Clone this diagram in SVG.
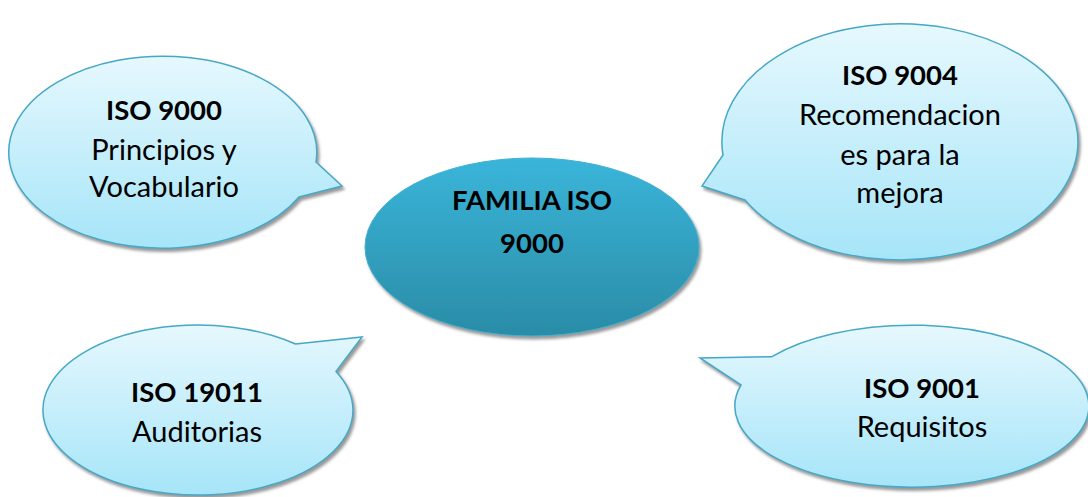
<svg xmlns="http://www.w3.org/2000/svg" width="1088" height="497" viewBox="0 0 1088 497">
  <style>
    .bubble { fill: url(#bubbleFill); stroke: #46A8C6; stroke-width: 1.5; filter: url(#shade); }
    .hub { fill: url(#hubFill); stroke: #3FB0D2; stroke-width: 1; filter: url(#shade); }
    text { font-family: Lato, "Liberation Sans", sans-serif; font-size: 29px; fill: #000; text-anchor: middle; }
    .b { font-weight: bold; font-size: 27.5px; }
  </style>
  <defs>
    <linearGradient id="bubbleFill" x1="0" y1="0" x2="0" y2="1">
      <stop offset="0" stop-color="#E6F8FE"/>
      <stop offset="1" stop-color="#A6E5F8"/>
    </linearGradient>
    <linearGradient id="hubFill" x1="0" y1="0" x2="0" y2="1">
      <stop offset="0" stop-color="#3AB5DA"/>
      <stop offset="1" stop-color="#2A8CA6"/>
    </linearGradient>
    <filter id="shade" x="-10%" y="-10%" width="125%" height="130%">
      <feDropShadow dx="2" dy="3" stdDeviation="1.5" flood-color="#7F7F7F" flood-opacity="0.8"/>
    </filter>
  </defs>

  <!-- central node -->
  <g id="familia">
    <ellipse class="hub" cx="532" cy="247" rx="167" ry="89"/>
    <text class="b" x="532" y="210">FAMILIA ISO</text>
    <text class="b" x="532" y="253">9000</text>
  </g>

  <!-- speech bubbles; each tail points towards the central node -->
  <g id="iso9000">
    <path class="bubble" d="M 299,197 L 342,186 L 316,162 A 154 96 0 1 0 299,197 Z"/>
    <text class="b" x="164" y="120">ISO 9000</text>
    <text x="164" y="160">Principios y</text>
    <text x="164" y="197">Vocabulario</text>
  </g>

  <g id="iso9004">
    <path class="bubble" d="M 745,200 L 702,186 L 723,155 A 178 118 0 1 1 745,200 Z"/>
    <text class="b" x="900" y="85">ISO 9004</text>
    <text x="900" y="125">Recomendacion</text>
    <text x="900" y="165">es para la</text>
    <text x="900" y="203">mejora</text>
  </g>

  <g id="iso19011">
    <path class="bubble" d="M 295.5,344 L 362,337 L 336,371.4 A 155 85 0 1 1 295.5,344 Z"/>
    <text class="b" x="197" y="402">ISO 19011</text>
    <text x="197" y="442">Auditorias</text>
  </g>

  <g id="iso9001">
    <path class="bubble" d="M 741,385 L 700,358 L 771.5,356.8 A 177 81 0 1 1 741,385 Z"/>
    <text class="b" x="922" y="398">ISO 9001</text>
    <text x="922" y="437">Requisitos</text>
  </g>

  <g id="connectors"></g>
</svg>
